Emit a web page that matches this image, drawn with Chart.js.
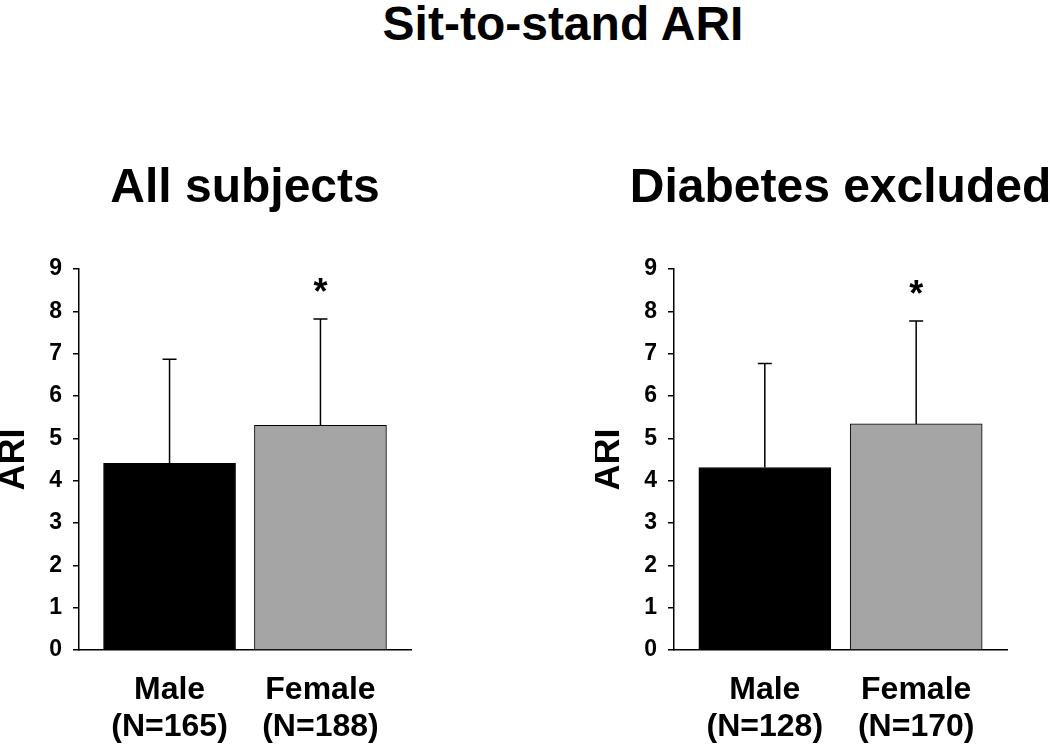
<!DOCTYPE html>
<html>
<head>
<meta charset="utf-8">
<script src="https://cdn.jsdelivr.net/npm/chart.js@4.4.0/dist/chart.umd.min.js"></script>
<style>
  body { margin: 0; width: 1050px; height: 747px; background: #fff; position: relative; overflow: hidden; font-family: "Liberation Sans", Arial, sans-serif; }
  #title { position: absolute; left: 63px; top: 0; width: 1000px; text-align: center; font-weight: bold; font-size: 48px; line-height: 48px; color: #000; }
  .panel { position: absolute; top: 0; height: 747px; }
</style>
</head>
<body>
<div id="title">Sit-to-stand ARI</div>
<div class="panel" style="left:0;width:525px"><canvas id="chartAll"></canvas></div>
<div class="panel" style="left:595px;width:455px"><canvas id="chartNoDiab"></canvas></div>

<script>
// values
const categories = ['Male', 'Female'];
const nAll = ['(N=165)', '(N=188)'];
const nNoDiab = ['(N=128)', '(N=170)'];
const meansAll = [4.41, 5.31];
const sdAll = [2.46, 2.51];
const meansNoDiab = [4.31, 5.34];
const sdNoDiab = [2.46, 2.43];
const significance = ['', '*'];
const yTicks = [0, 1, 2, 3, 4, 5, 6, 7, 8, 9];
const barColors = ['#000000', '#a5a5a5'];

Chart.defaults.font.family = '"Liberation Sans", Arial, sans-serif';
Chart.defaults.color = '#000';

function makeChart(id, title, means, errs, nLabels, padRight) {
  const errorBars = {
    id: 'errorBars',
    afterDatasetsDraw(chart) {
      const ctx = chart.ctx;
      const y = chart.scales.y;
      const bars = chart.getDatasetMeta(0).data;
      ctx.save();
      ctx.strokeStyle = '#000';
      ctx.lineWidth = 1.5;
      bars.forEach((bar, i) => {
        const top = y.getPixelForValue(means[i] + errs[i]);
        ctx.beginPath();
        ctx.moveTo(bar.x, bar.y);
        ctx.lineTo(bar.x, top);
        ctx.moveTo(bar.x - 7, top);
        ctx.lineTo(bar.x + 7, top);
        ctx.stroke();
        if (significance[i]) {
          ctx.fillStyle = '#000';
          ctx.font = 'bold 36px "Liberation Sans", Arial, sans-serif';
          ctx.textAlign = 'center';
          ctx.textBaseline = 'alphabetic';
          ctx.fillText(significance[i], bar.x, top - 15);
        }
      });
      ctx.restore();
    },
    afterDraw(chart) {
      const ctx = chart.ctx;
      const area = chart.chartArea;
      ctx.save();
      ctx.fillStyle = '#000';
      ctx.font = 'bold 48px "Liberation Sans", Arial, sans-serif';
      ctx.textAlign = 'center';
      ctx.textBaseline = 'alphabetic';
      ctx.fillText(title, (area.left + area.right) / 2, 202);
      ctx.restore();
    }
  };

  return new Chart(document.getElementById(id), {
    type: 'bar',
    data: {
      datasets: [{
        data: means.map((m, i) => ({ x: i, y: m })),
        backgroundColor: barColors,
        borderColor: '#000',
        borderWidth: 1,
        barThickness: 132
      }]
    },
    options: {
      responsive: true,
      maintainAspectRatio: false,
      animation: false,
      events: [],
      layout: { padding: { left: 0, right: padRight, top: 269, bottom: 0 } },
      plugins: { legend: { display: false }, tooltip: { enabled: false } },
      scales: {
        x: {
          type: 'linear',
          offset: false,
          min: -0.6,
          max: 1.6,
          afterBuildTicks: s => { s.ticks = categories.map((c, i) => ({ value: i })); },
          afterFit: s => { s.height = 97; },
          ticks: {
            callback: v => [categories[Math.round(v)], nLabels[Math.round(v)]],
            font: { size: 32, weight: 'bold', lineHeight: 1.15 },
            padding: 14,
            maxRotation: 0,
            autoSkip: false
          },
          grid: { display: false },
          border: { display: true, color: '#000', width: 1.5 }
        },
        y: {
          min: 0,
          max: 9,
          afterBuildTicks: s => { s.ticks = yTicks.map(v => ({ value: v })); },
          afterFit: s => { s.width = 79; },
          ticks: { font: { size: 23, weight: 'bold' }, padding: 11 },
          grid: { drawOnChartArea: false, drawTicks: true, tickLength: 6, color: '#000', lineWidth: 1.5 },
          border: { display: true, color: '#000', width: 1.5 },
          title: { display: true, text: 'ARI', font: { size: 36, weight: 'bold', lineHeight: 0.8 }, padding: 0 }
        }
      }
    },
    plugins: [errorBars]
  });
}

makeChart('chartAll', 'All subjects', meansAll, sdAll, nAll, 114);
makeChart('chartNoDiab', 'Diabetes excluded', meansNoDiab, sdNoDiab, nNoDiab, 43);
</script>
</body>
</html>
